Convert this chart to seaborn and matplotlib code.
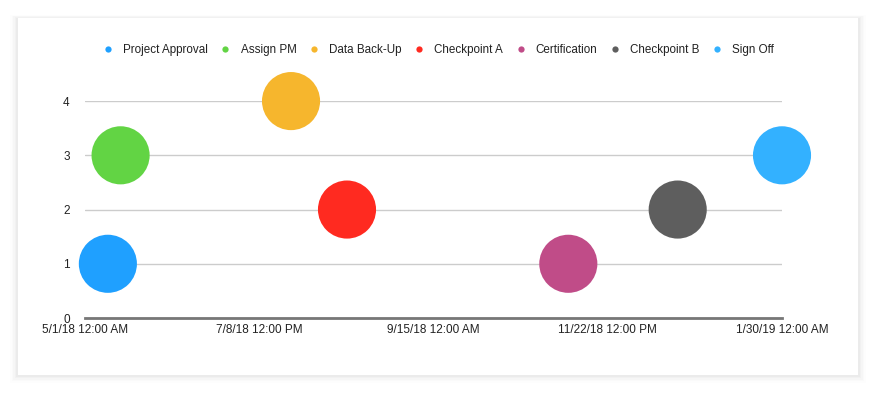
import matplotlib
matplotlib.use("Agg")
import matplotlib.pyplot as plt
from matplotlib.lines import Line2D
from matplotlib.patches import FancyBboxPatch
import pandas as pd
import seaborn as sns

# milestone data
tasks = ['Project Approval', 'Assign PM', 'Data Back-Up', 'Checkpoint A',
         'Certification', 'Checkpoint B', 'Sign Off']
dates = ['2018-05-10', '2018-05-15', '2018-07-21', '2018-08-12',
         '2018-11-07', '2018-12-20', '2019-01-30']
values = [1, 3, 4, 2, 1, 2, 3]
colors = ['#1fa0ff', '#62d444', '#f6b62d', '#ff2a20', '#c04c88', '#5e5e5e', '#33b1ff']

tick_dates = ['2018-05-01 00:00', '2018-07-08 12:00', '2018-09-15 00:00',
              '2018-11-22 12:00', '2019-01-30 00:00']
tick_labels = ['5/1/18 12:00 AM', '7/8/18 12:00 PM', '9/15/18 12:00 AM',
               '11/22/18 12:00 PM', '1/30/19 12:00 AM']

df = pd.DataFrame({'Task': tasks, 'Date': pd.to_datetime(dates), 'Value': values})

sns.set_style("white")
plt.rcParams['font.family'] = ['Liberation Sans', 'DejaVu Sans']

fig = plt.figure(figsize=(8.76, 3.93), dpi=100)
fig.patch.set_facecolor('white')

# card with soft shadow
for i, a in enumerate([0.025, 0.02, 0.015, 0.01, 0.006]):
    d = (i + 1) * 0.004
    fig.patches.append(FancyBboxPatch((0.0205 - d * 0.45, 0.0458 - d), 0.959 + d * 0.9, 0.908 + d * 1.4,
                                      boxstyle='square,pad=0', transform=fig.transFigure,
                                      facecolor='black', edgecolor='none', alpha=a, zorder=-3))
fig.patches.append(FancyBboxPatch((0.0205, 0.0458), 0.959, 0.908, boxstyle='square,pad=0',
                                  transform=fig.transFigure, facecolor='white',
                                  edgecolor='none', zorder=-2))

ax = fig.add_axes([0.097, 0.1908, 0.7957, 0.552])
ax.set_facecolor('none')

sns.scatterplot(data=df, x='Date', y='Value', hue='Task', palette=colors, s=1750,
                edgecolor='none', legend=False, ax=ax, clip_on=False, zorder=3)

ax.set_xlim(pd.Timestamp(tick_dates[0]), pd.Timestamp(tick_dates[-1]))
ax.set_ylim(0, 4)
ax.set_xticks(pd.to_datetime(tick_dates))
ax.set_xticklabels(tick_labels)
ax.set_yticks([0, 1, 2, 3, 4])
ax.tick_params(axis='x', length=0, pad=4.5, labelsize=8.5, labelcolor='#222222')
ax.tick_params(axis='y', length=0, pad=11, labelsize=8.5, labelcolor='#222222')
ax.yaxis.grid(True, color='#cccccc', linewidth=1)
ax.set_axisbelow(True)
for side in ['top', 'right', 'left']:
    ax.spines[side].set_visible(False)
ax.spines['bottom'].set_color('#777777')
ax.spines['bottom'].set_linewidth(2)
ax.spines['bottom'].set_zorder(2)
ax.set_xlabel('')
ax.set_ylabel('')

handles = [Line2D([0], [0], marker='o', linestyle='', markersize=4.5,
                  markerfacecolor=c, markeredgecolor='none') for c in colors]
fig.legend(handles, tasks, loc='center', bbox_to_anchor=(0.5, 0.873), ncol=7,
           frameon=False, fontsize=8.4, handletextpad=0.8, columnspacing=1.0,
           handlelength=1.0, labelcolor='#222222')

plt.savefig('out.png', dpi=100)
